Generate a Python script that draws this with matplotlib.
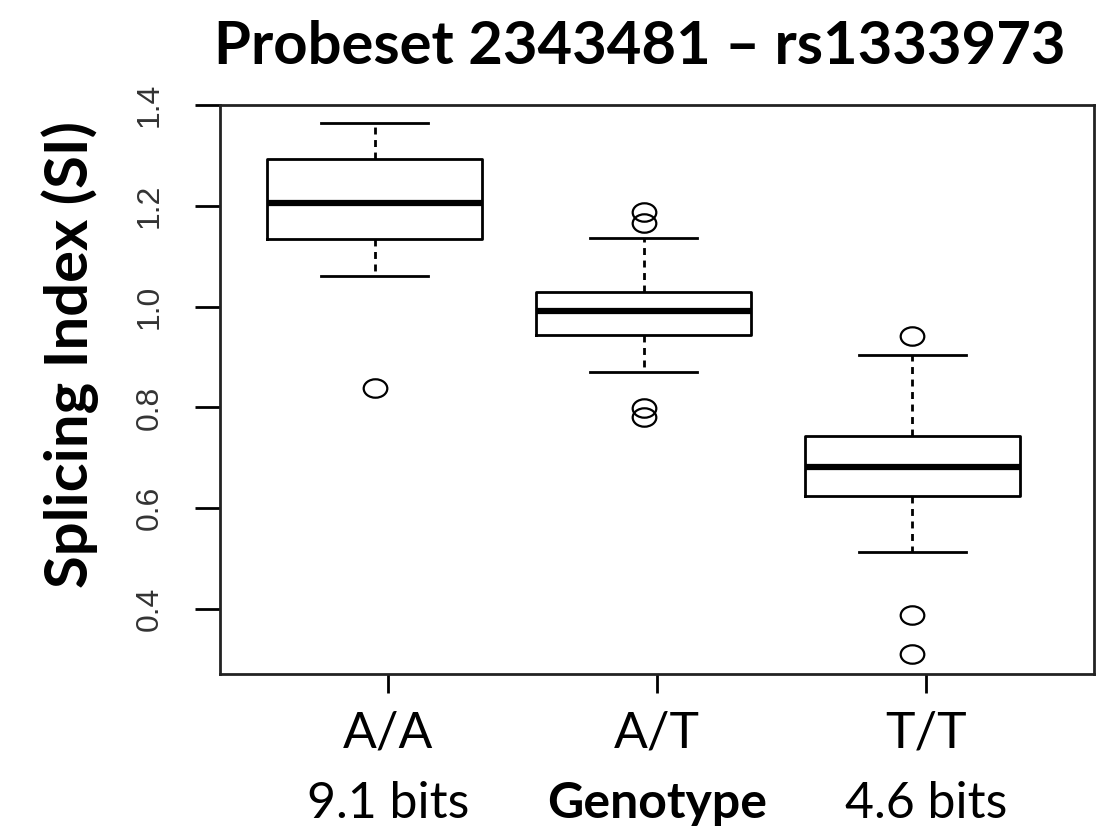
import numpy as np
import matplotlib.pyplot as plt
from matplotlib.path import Path
from matplotlib.transforms import Affine2D

# values
genotypes = ['A/A', 'A/T', 'T/T']
bits = ['9.1 bits', '', '4.6 bits']
q1 = [1.134, 0.944, 0.625]
med = [1.205, 0.992, 0.682]
q3 = [1.293, 1.029, 0.743]
whislo = [1.061, 0.870, 0.514]
whishi = [1.364, 1.137, 0.904]
outliers = [[0.838], [1.188, 1.166, 0.799, 0.780], [0.942, 0.388, 0.311]]

stats = []
for g, a, m, b, lo, hi, fl in zip(genotypes, q1, med, q3, whislo, whishi, outliers):
    stats.append(dict(label=g, q1=a, med=m, q3=b, whislo=lo, whishi=hi, fliers=np.array(fl)))

# boxes in the original sit a bit left of the axis ticks
box_offset = -0.05
oval = Path.unit_circle().transformed(Affine2D().scale(1.0, 0.78))

fig = plt.figure(figsize=(11.06, 8.38), dpi=100)
ax = fig.add_axes([220/1106, 164/838, 874/1106, 569/838])

ax.bxp(stats, positions=np.arange(1, 4)+box_offset, widths=0.8, showfliers=True,
       boxprops=dict(color='black', lw=2),
       medianprops=dict(color='black', lw=4.5, solid_capstyle='butt'),
       whiskerprops=dict(color='black', lw=2, linestyle=(0, (2.5, 2))),
       capprops=dict(color='black', lw=2),
       flierprops=dict(marker=oval, markersize=17, markerfacecolor='none',
                       markeredgecolor='black', markeredgewidth=1.6))

ax.set_xlim(0.375, 3.625)
ax.set_ylim(0.271, 1.4)
for s in ax.spines.values():
    s.set_linewidth(2)
    s.set_color('#222222')

ax.set_yticks([0.4, 0.6, 0.8, 1.0, 1.2, 1.4])
ax.set_yticklabels(['0.4', '0.6', '0.8', '1.0', '1.2', '1.4'], rotation=90, va='center',
                   fontsize=23, family='Liberation Sans', color='#333333')
ax.tick_params(axis='y', length=18, width=2, pad=22)

ax.set_xticks([1, 2, 3])
ax.set_xticklabels(genotypes, fontsize=36, family='Lato')
ax.tick_params(axis='x', length=14, width=2, pad=12)

for x, b in zip([1, 2, 3], bits):
    ax.text(x, -0.253, b, transform=ax.get_xaxis_transform(), ha='center', va='baseline',
            fontsize=36, family='Lato')
ax.set_xlabel('Genotype', fontsize=36, fontweight='bold', family='Lato', va='baseline')
ax.xaxis.set_label_coords(0.5, -0.253)

fig.text(640/1106, 1-64/838, 'Probeset 2343481 \u2013 rs1333973', ha='center', va='baseline',
         fontsize=43, fontweight='bold', family='Lato')
fig.text(70/1106, 1-355/838, 'Splicing Index (SI)', rotation=90, ha='center', va='center',
         fontsize=43, fontweight='bold', family='Lato')

fig.savefig('out.png', dpi=100)
